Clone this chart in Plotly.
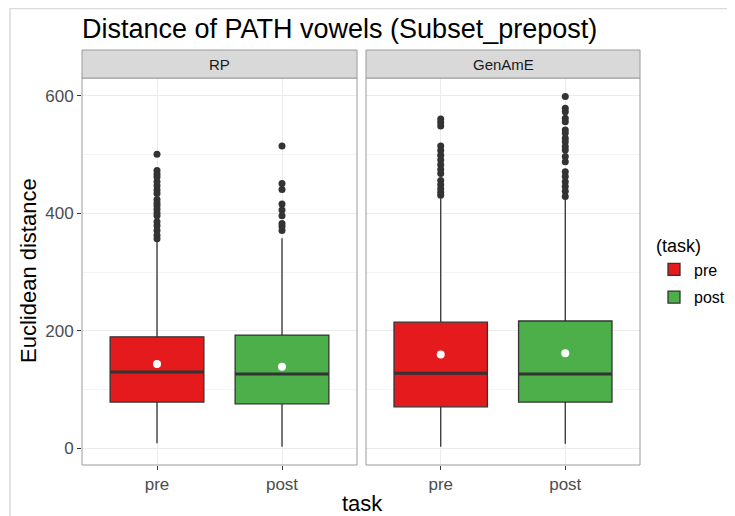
import plotly.graph_objects as go

panels = ["RP", "GenAmE"]
tasks = ["pre", "post"]
colors = {"pre": "#E41A1C", "post": "#4DAF4A"}

# box statistics per panel/task: [lower whisker, q1, median, q3, upper whisker, mean]
stats = {
    ("RP", "pre"): [9, 79, 130, 190, 352, 144],
    ("RP", "post"): [3, 76, 127, 193, 358, 139],
    ("GenAmE", "pre"): [3, 71, 128, 215, 426, 160],
    ("GenAmE", "post"): [8, 79, 127, 217, 424, 162],
}

outliers = {
    ("RP", "pre"): [501, 473, 467, 462, 454, 447, 440, 434, 424, 418, 413, 407, 401, 396, 386, 379, 371, 363, 357],
    ("RP", "post"): [515, 451, 441, 416, 406, 396, 383, 378, 371],
    ("GenAmE", "pre"): [561, 555, 549, 515, 507, 499, 491, 483, 475, 468, 456, 449, 442, 436, 431],
    ("GenAmE", "post"): [599, 579, 573, 562, 556, 542, 537, 528, 522, 514, 508, 497, 488, 471, 463, 454, 446, 438, 429],
}

yticks = [0, 200, 400, 600]

W, H = 735, 516
OFF = 8  # page body margin offset


def fx(px):
    return px - OFF


def fy(py):
    return py - OFF


left, right, top, bottom = fx(82), fx(640), fy(78), fy(465)
ml, mr, mt, mb = left, W - right, top, H - bottom
pw = W - ml - mr
ph = H - mt - mb
split = (357 - 82) / pw
gap = 9 / pw


def px2paper_x(px):
    return (fx(px) - left) / pw


def py2paper_y(py):
    return (bottom - fy(py)) / ph


fig = go.Figure()
BW = 0.75
for pi, panel in enumerate(panels):
    ax = "" if pi == 0 else "2"
    for ti, task in enumerate(tasks):
        lo, q1, med, q3, hi, mean = stats[(panel, task)]
        fig.add_trace(go.Box(
            x=[ti], q1=[q1], median=[med], q3=[q3], lowerfence=[lo], upperfence=[hi],
            width=BW, whiskerwidth=0, fillcolor=colors[task],
            line=dict(color="#333333", width=1.3), boxpoints=False,
            name=task, legendgroup=task, showlegend=(pi == 0),
            xaxis="x" + ax, yaxis="y" + ax, hoverinfo="skip",
        ))
        fig.add_trace(go.Scatter(
            x=[ti - BW / 2, ti + BW / 2], y=[med, med], mode="lines",
            line=dict(color="#333333", width=3), showlegend=False,
            xaxis="x" + ax, yaxis="y" + ax, hoverinfo="skip",
        ))
        pts = outliers[(panel, task)]
        fig.add_trace(go.Scatter(
            x=[ti] * len(pts), y=pts, mode="markers",
            marker=dict(color="#333333", size=7), showlegend=False,
            xaxis="x" + ax, yaxis="y" + ax, hoverinfo="skip",
        ))
        fig.add_trace(go.Scatter(
            x=[ti], y=[mean], mode="markers",
            marker=dict(color="white", size=8), showlegend=False,
            xaxis="x" + ax, yaxis="y" + ax, hoverinfo="skip",
        ))

tickfont = dict(family="Liberation Sans, Arial", size=17, color="#4D4D4D")
xcommon = dict(
    range=[-0.6, 1.6], tickvals=[0, 1], ticktext=tasks, showgrid=True,
    gridcolor="#EBEBEB", gridwidth=1, zeroline=False, ticks="outside", ticklen=4,
    tickcolor="#333333", tickfont=tickfont, showline=False,
)
ycommon = dict(
    range=[-28.1, 630.6], tickvals=yticks, showgrid=True, gridcolor="#EBEBEB",
    gridwidth=1, zeroline=False, showline=False,
    minor=dict(tickvals=[100, 300, 500], showgrid=True, gridcolor="#F4F4F4", gridwidth=0.6),
)

fig.update_layout(
    width=W, height=H,
    margin=dict(l=ml, r=mr, t=mt, b=mb),
    paper_bgcolor="white", plot_bgcolor="white",
    font=dict(family="Liberation Sans, Arial", color="#000000"),
    title=dict(text="Distance of PATH vowels (Subset_prepost)", x=fx(82) / W, xanchor="left",
               y=1 - fy(29) / H, yanchor="middle", font=dict(size=27, color="#000000")),
    xaxis=dict(domain=[0, split], anchor="y", **xcommon),
    xaxis2=dict(domain=[split + gap, 1], anchor="y2", **xcommon),
    yaxis=dict(domain=[0, 1], anchor="x", ticks="outside", ticklen=4, tickcolor="#333333",
               tickfont=tickfont, **ycommon),
    yaxis2=dict(domain=[0, 1], anchor="x2", matches="y", showticklabels=False, ticks="", **ycommon),
    showlegend=True,
    legend=dict(
        x=px2paper_x(654), xanchor="left", y=py2paper_y(229), yanchor="top",
        title=dict(text="(task)", font=dict(size=18, color="#000000")),
        font=dict(size=16, color="#000000"), bgcolor="rgba(0,0,0,0)",
        tracegroupgap=4, itemwidth=30,
    ),
    boxmode="overlay",
)

strip_h = 28 / ph
shapes = []
annotations = []
for pi, panel in enumerate(panels):
    ax = "x" if pi == 0 else "x2"
    ay = "y" if pi == 0 else "y2"
    shapes.append(dict(type="rect", xref=ax + " domain", yref=ay + " domain",
                       x0=0, x1=1, y0=0, y1=1, line=dict(color="#9A9A9A", width=1),
                       fillcolor="rgba(0,0,0,0)", layer="above"))
    shapes.append(dict(type="rect", xref=ax + " domain", yref=ay + " domain",
                       x0=0, x1=1, y0=1, y1=1 + strip_h, line=dict(color="#9A9A9A", width=1),
                       fillcolor="#D9D9D9", layer="above"))
    annotations.append(dict(text=panel, xref=ax + " domain", yref=ay + " domain",
                            x=0.5, y=1 + strip_h / 2, showarrow=False,
                            font=dict(size=15, color="#1A1A1A"), xanchor="center", yanchor="middle"))

annotations.append(dict(text="task", xref="paper", yref="paper", x=px2paper_x(362),
                        y=py2paper_y(503), showarrow=False, xanchor="center", yanchor="middle",
                        font=dict(size=22, color="#000000")))
annotations.append(dict(text="Euclidean distance", xref="paper", yref="paper", x=px2paper_x(28),
                        y=py2paper_y(271), showarrow=False, xanchor="center", yanchor="middle",
                        textangle=-90, font=dict(size=22, color="#000000")))

# outer frame lines (screenshot border)
shapes.append(dict(type="line", xref="paper", yref="paper",
                   x0=px2paper_x(10), x1=px2paper_x(10), y0=py2paper_y(520), y1=py2paper_y(8),
                   line=dict(color="#DADADA", width=1.5)))
shapes.append(dict(type="line", xref="paper", yref="paper",
                   x0=px2paper_x(10), x1=px2paper_x(745), y0=py2paper_y(8.5), y1=py2paper_y(8.5),
                   line=dict(color="#DADADA", width=1.5)))

fig.update_layout(shapes=shapes, annotations=annotations)
fig.write_html("out.html")
